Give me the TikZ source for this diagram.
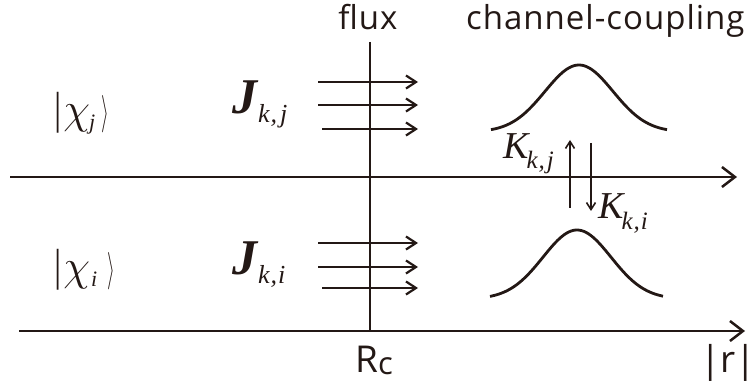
\documentclass[tikz,border=0pt]{standalone}
\usepackage{fontspec}
\usepackage{graphicx}
\usetikzlibrary{arrows.meta}
\newfontfamily\tms{Liberation Serif}
\newfontfamily\sns[LetterSpace=3]{Open Sans}
\newfontfamily\snsn{Open Sans}
\definecolor{ink}{RGB}{35,24,21}
\newcommand{\ketbar}{\scalebox{1}[1.25]{|}}
\newcommand{\ketang}{\scalebox{0.8}[1.5]{$\rangle$}}
\newcommand{\chisym}{{\fontsize{20}{20}\selectfont\scalebox{2.1}{$\chi$}}}
\begin{document}
\begin{tikzpicture}[x=1pt,y=-1pt,
  axis/.style={draw=ink,line width=2.8pt,-{Straight Barb[length=13pt,width=20pt,line width=2.5pt]}},
  fluxarr/.style={draw=ink,line width=2.4pt,-{Straight Barb[length=10pt,width=13pt,line width=2.2pt]}},
  karr/.style={draw=ink,line width=1.8pt,-{Straight Barb[length=7pt,width=9pt,line width=1.6pt]}},
  curve/.style={draw=ink,line width=2.8pt},
  sanslbl/.style={text=ink,inner sep=0pt,font=\sns\fontsize{33}{33}\selectfont},
  bigsans/.style={text=ink,inner sep=0pt,font=\snsn\fontsize{37}{37}\selectfont},
  mathlbl/.style={text=ink,inner sep=0pt,font=\tms}]
\useasboundingbox (0,0) rectangle (755,390);
% axes
\coordinate (a1s) at (10,177);
\coordinate (a1e) at (737,177);
\coordinate (a2s) at (19,331);
\coordinate (a2e) at (745,331);
\draw[axis] (a1s) -- (a1e);
\draw[axis] (a2s) -- (a2e);
% vertical line
\coordinate (vt) at (370,42);
\coordinate (vb) at (370,331);
\draw[draw=ink,line width=2.8pt] (vt) -- (vb);
% flux arrows
\foreach \n/\y/\xs in {u1/82/318,u2/105/318,u3/129/322,l1/243/318,l2/267/318,l3/288/322}{
  \coordinate (s\n) at (\xs,\y);
  \coordinate (e\n) at (418,\y);
  \draw[fluxarr] (s\n) -- (e\n);
}
% gaussians
\draw[curve] plot[domain=-88:88,samples=80,smooth] ({579+\x},{132-67*exp(-(\x/34)^2/2)});
\draw[curve] plot[domain=-87:86,samples=80,smooth] ({577+\x},{299-69*exp(-(\x/34)^2/2)});
% coupling arrows
\coordinate (kus) at (570,208);
\coordinate (kue) at (570,140);
\coordinate (kds) at (591,143);
\coordinate (kde) at (591,211);
\draw[karr] (kus) -- (kue);
\draw[karr] (kds) -- (kde);
% labels
\node[sanslbl,anchor=base] (flux) at (368,30) {flux};
\node[sanslbl,anchor=base west] (cc) at (466,30) {channel-coupling};
\node[bigsans,anchor=base] (rc) at (374,372) {R\raisebox{-2pt}{\fontsize{31}{31}\selectfont c}};
\node[bigsans,anchor=base] (rr) at (728,372) {|r|};
\node[mathlbl,anchor=base west] (chij) at (54,124) {\fontsize{36}{36}\selectfont \ketbar\kern2pt\chisym\kern-1pt\raisebox{-6pt}{\fontsize{22}{22}\selectfont\itshape j}\kern6pt\ketang};
\node[mathlbl,anchor=base west] (chii) at (54,280) {\fontsize{36}{36}\selectfont \ketbar\kern2pt\chisym\kern1pt\raisebox{-6pt}{\fontsize{22}{22}\selectfont\itshape i}\kern10pt\ketang};
\node[mathlbl,anchor=base west] (jkj) at (232,114) {\fontsize{50}{50}\selectfont\bfseries\itshape J\kern1pt\raisebox{-9pt}{\fontsize{26}{26}\selectfont\mdseries k\kern1pt,\kern3pt j}};
\node[mathlbl,anchor=base west] (jki) at (232,274) {\fontsize{50}{50}\selectfont\bfseries\itshape J\kern1pt\raisebox{-9pt}{\fontsize{26}{26}\selectfont\mdseries k\kern1pt,\kern1pt i}};
\node[mathlbl,anchor=base west] (kkj) at (503,159) {\fontsize{38}{38}\selectfont\itshape K\kern-2pt\raisebox{-10pt}{\fontsize{25}{25}\selectfont k\kern1pt,\kern2pt j}};
\node[mathlbl,anchor=base west] (kki) at (598,219) {\fontsize{38}{38}\selectfont\itshape K\kern-2pt\raisebox{-10pt}{\fontsize{25}{25}\selectfont k\kern1pt,\kern1pt i}};
\end{tikzpicture}
\end{document}
